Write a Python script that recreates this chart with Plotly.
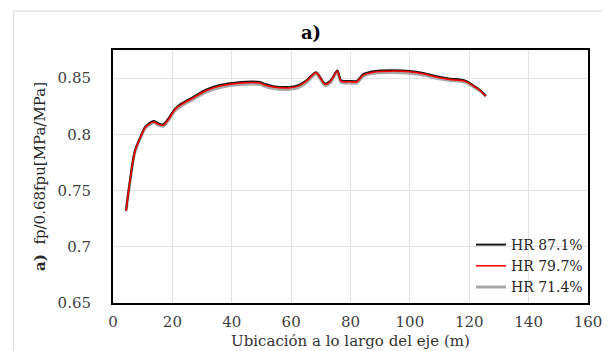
import plotly.graph_objects as go

# Data
ubicacion_m = [4.4, 5.7, 7.4, 9.7, 10.8, 13.6, 15.3, 16.9, 18.6, 20.9, 23.1, 27.1, 31.5, 36.0,
               41.7, 49.5, 51.2, 54.0, 59.6, 62.4, 65.2, 68.4, 71.4, 73.1, 75.6, 76.8, 79.8, 82.1,
               84.3, 87.7, 93.3, 100.0, 104.5, 109.0, 113.5, 116.9, 119.1, 121.4, 123.6, 125.6]

hr_871 = [0.7325, 0.7585, 0.7855, 0.8005, 0.8066, 0.8118, 0.8099, 0.8088, 0.8139, 0.8228,
          0.8275, 0.8334, 0.8399, 0.8438, 0.8462, 0.8465, 0.8447, 0.8428, 0.8422, 0.8437, 0.8481,
          0.8553, 0.8451, 0.8474, 0.8568, 0.8481, 0.8475, 0.8475, 0.8535, 0.8561, 0.8570, 0.8564,
          0.8546, 0.8517, 0.8495, 0.8487, 0.8473, 0.8434, 0.8394, 0.8343]

hr_797 = [0.7320, 0.7580, 0.7850, 0.8000, 0.8060, 0.8110, 0.8090, 0.8080, 0.8130, 0.8220,
          0.8266, 0.8325, 0.8390, 0.8429, 0.8453, 0.8456, 0.8438, 0.8420, 0.8414, 0.8429, 0.8473,
          0.8547, 0.8444, 0.8467, 0.8562, 0.8473, 0.8467, 0.8467, 0.8527, 0.8553, 0.8562, 0.8556,
          0.8538, 0.8509, 0.8488, 0.8480, 0.8467, 0.8429, 0.8390, 0.8340]

hr_714 = [0.7315, 0.7575, 0.7845, 0.7993, 0.8053, 0.8103, 0.8083, 0.8072, 0.8122, 0.8210,
          0.8255, 0.8313, 0.8377, 0.8416, 0.8440, 0.8443, 0.8425, 0.8407, 0.8401, 0.8416, 0.8461,
          0.8537, 0.8434, 0.8457, 0.8553, 0.8462, 0.8456, 0.8456, 0.8516, 0.8542, 0.8550, 0.8544,
          0.8527, 0.8499, 0.8479, 0.8472, 0.8460, 0.8423, 0.8386, 0.8337]

series_names = ["HR 87.1%", "HR 79.7%", "HR 71.4%"]
x_ticks = [0, 20, 40, 60, 80, 100, 120, 140, 160]
y_ticks = [0.65, 0.7, 0.75, 0.8, 0.85]
y_tick_text = ["0.65", "0.7", "0.75", "0.8", "0.85"]
x_title = "Ubicación a lo largo del eje (m)"

FONT = "DejaVu Serif"

fig = go.Figure()
fig.add_trace(go.Scatter(x=ubicacion_m, y=hr_714, name=series_names[2], mode="lines",
                         line=dict(color="#a6a6a6", width=3, shape="spline", smoothing=0.8),
                         legendrank=3))
fig.add_trace(go.Scatter(x=ubicacion_m, y=hr_871, name=series_names[0], mode="lines",
                         line=dict(color="#1a1a1a", width=2, shape="spline", smoothing=0.8),
                         legendrank=1))
fig.add_trace(go.Scatter(x=ubicacion_m, y=hr_797, name=series_names[1], mode="lines",
                         line=dict(color="#ff0000", width=1.5, shape="spline", smoothing=0.8),
                         legendrank=2))

fig.update_layout(
    template="none",
    width=610, height=351,
    margin=dict(l=105, r=30, t=42, b=56, autoexpand=False),
    paper_bgcolor="white", plot_bgcolor="white",
    font=dict(family=FONT, size=15, color="#404040"),
    title=dict(text="<b>a)</b>", x=303 / 610, xanchor="center", xref="container",
               y=1 - 25 / 351, yanchor="middle", yref="container",
               font=dict(family=FONT, size=18, color="black")),
    showlegend=True,
    legend=dict(x=1, xanchor="right", y=0, yanchor="bottom", bgcolor="rgba(255,255,255,0)",
                font=dict(family=FONT, size=14, color="#262626"), itemwidth=30,
                borderwidth=0),
    xaxis=dict(range=[0, 160], tickvals=x_ticks, showgrid=True, gridcolor="#e3e3e3", gridwidth=1,
               showline=True, linecolor="black", linewidth=2, mirror=True, zeroline=False,
               ticks="", ticklabelstandoff=4, automargin=False,
               tickfont=dict(family=FONT, size=15, color="#404040")),
    yaxis=dict(range=[0.65, 0.875], tickvals=y_ticks, ticktext=y_tick_text, showgrid=True,
               gridcolor="#e3e3e3", gridwidth=1, showline=True, linecolor="black", linewidth=2,
               mirror=True, zeroline=False, ticks="", ticklabelstandoff=17, automargin=False,
               tickfont=dict(family=FONT, size=15, color="#404040"),
               title=dict(text="<b>a)</b>  fp/0.68fpu[MPa/MPa]", standoff=8,
                          font=dict(family=FONT, size=15, color="#262626"))),
    annotations=[dict(text=x_title, xref="paper", yref="paper", x=0.5, y=-0.150,
                      xanchor="center", yanchor="middle", showarrow=False,
                      font=dict(family=FONT, size=15, color="#333333"))],
    shapes=[dict(type="rect", xref="paper", yref="paper", x0=-0.209, x1=1.038, y0=-0.3, y1=1.154,
                 line=dict(color="#d9d9d9", width=1), fillcolor="rgba(0,0,0,0)", layer="below")],
)

fig.write_html("out.html")
